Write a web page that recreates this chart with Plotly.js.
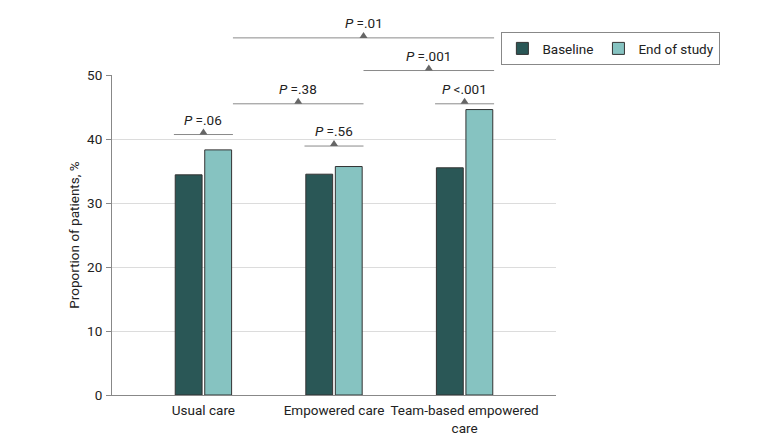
<!DOCTYPE html>
<html>
<head>
<meta charset="utf-8">
<script src="https://cdn.plot.ly/plotly-3.0.1.min.js"></script>
<style>html,body{margin:0;padding:0;background:#fff;}#chart{width:780px;height:443px;}</style>
</head>
<body>
<div id="chart"></div>
<script>
// ---- Data ----
var categories = ['Usual care', 'Empowered care', 'Team-based empowered<br>care'];
var baseline = [34.4, 34.5, 35.5];
var endOfStudy = [38.3, 35.7, 44.6];
var yTicks = [0, 10, 20, 30, 40, 50];

// Comparison brackets: from group index / to group index, height (%), label
var cmpFrom = [0, 1, 2, 0, 1, 0];
var cmpTo = [0, 1, 2, 1, 2, 2];
var cmpY = [40.7, 38.9, 45.5, 45.5, 50.7, 55.8];
var cmpLabel = ['<i>P</i> =.06', '<i>P</i> =.56', '<i>P</i> <.001', '<i>P</i> =.38', '<i>P</i> =.001', '<i>P</i> =.01'];

// ---- Layout constants ----
var W = 780, H = 443;
var M = {l: 112, r: 224, t: 75, b: 48};
var xRange = [-0.7, 2.7];
var yRange = [0, 50];
var bargap = 0.548, bargroupgap = 0.09;
var half = (1 - bargap) / 2; // half group width in category units
var plotW = W - M.l - M.r, plotH = H - M.t - M.b;

function px(x) { return (x - xRange[0]) / (xRange[1] - xRange[0]); }
function py(y) { return (y - yRange[0]) / (yRange[1] - yRange[0]); }

var font = 'Roboto, "Noto Sans", sans-serif';
var fs = 13.5;
var idx = categories.map(function (_, i) { return i; });

var traces = [
  {type: 'bar', name: 'Baseline', x: idx, y: baseline,
   marker: {color: '#2a5756', line: {color: '#333', width: 1}}, hoverinfo: 'y'},
  {type: 'bar', name: 'End of study', x: idx, y: endOfStudy,
   marker: {color: '#86c3c1', line: {color: '#333', width: 1}}, hoverinfo: 'y'}
];

var shapes = [], annotations = [];
var lineCol = '#8a8a8a';
var triHW = 4 / plotW, triH = 6 / plotH;
for (var k = 0; k < cmpFrom.length; k++) {
  var x0, x1;
  if (cmpFrom[k] === cmpTo[k]) { x0 = cmpFrom[k] - half; x1 = cmpTo[k] + half; }
  else { x0 = cmpFrom[k] + half; x1 = cmpTo[k] + half; }
  var yp = py(cmpY[k]);
  var xm = (px(x0) + px(x1)) / 2;
  shapes.push({type: 'line', xref: 'paper', yref: 'paper', x0: px(x0), x1: px(x1), y0: yp, y1: yp,
               line: {color: lineCol, width: 1}});
  shapes.push({type: 'path', xref: 'paper', yref: 'paper',
               path: 'M' + (xm - triHW) + ',' + yp + ' L' + (xm + triHW) + ',' + yp + ' L' + xm + ',' + (yp + triH) + ' Z',
               fillcolor: '#666', line: {width: 0}});
  annotations.push({xref: 'paper', yref: 'paper', x: xm, y: yp, text: cmpLabel[k], showarrow: false,
                    xanchor: 'center', yanchor: 'bottom', yshift: 5, font: {family: font, size: fs, color: '#222'}});
}

var layout = {
  width: W, height: H,
  margin: M,
  paper_bgcolor: '#fff', plot_bgcolor: '#fff',
  font: {family: font, size: fs, color: '#222'},
  barmode: 'group', bargap: bargap, bargroupgap: bargroupgap,
  showlegend: true,
  legend: {orientation: 'h', x: 0.877, xanchor: 'left', y: 1.134, yanchor: 'top',
           bordercolor: '#888', borderwidth: 1, bgcolor: '#fff',
           font: {family: font, size: fs, color: '#222'}, itemwidth: 30, traceorder: 'normal'},
  xaxis: {range: xRange, tickmode: 'array', tickvals: idx, ticktext: categories,
          showgrid: false, zeroline: false, showline: true, linecolor: '#888', linewidth: 1,
          ticks: '', fixedrange: true, ticklabelstandoff: 3, tickfont: {family: font, size: fs, color: '#222'}},
  yaxis: {range: yRange, tickmode: 'array', tickvals: yTicks, showgrid: true, gridcolor: '#dcdcdc',
          zeroline: false, showline: true, linecolor: '#888', linewidth: 1, ticks: 'outside',
          ticklen: 5, tickcolor: '#888', fixedrange: true, ticklabelstandoff: 1,
          tickfont: {family: font, size: fs, color: '#222'},
          title: {text: 'Proportion of patients, %', font: {family: font, size: fs, color: '#222'}, standoff: 4}},
  shapes: shapes,
  annotations: annotations
};

Plotly.newPlot('chart', traces, layout, {displayModeBar: false, staticPlot: true});
</script>
</body>
</html>
